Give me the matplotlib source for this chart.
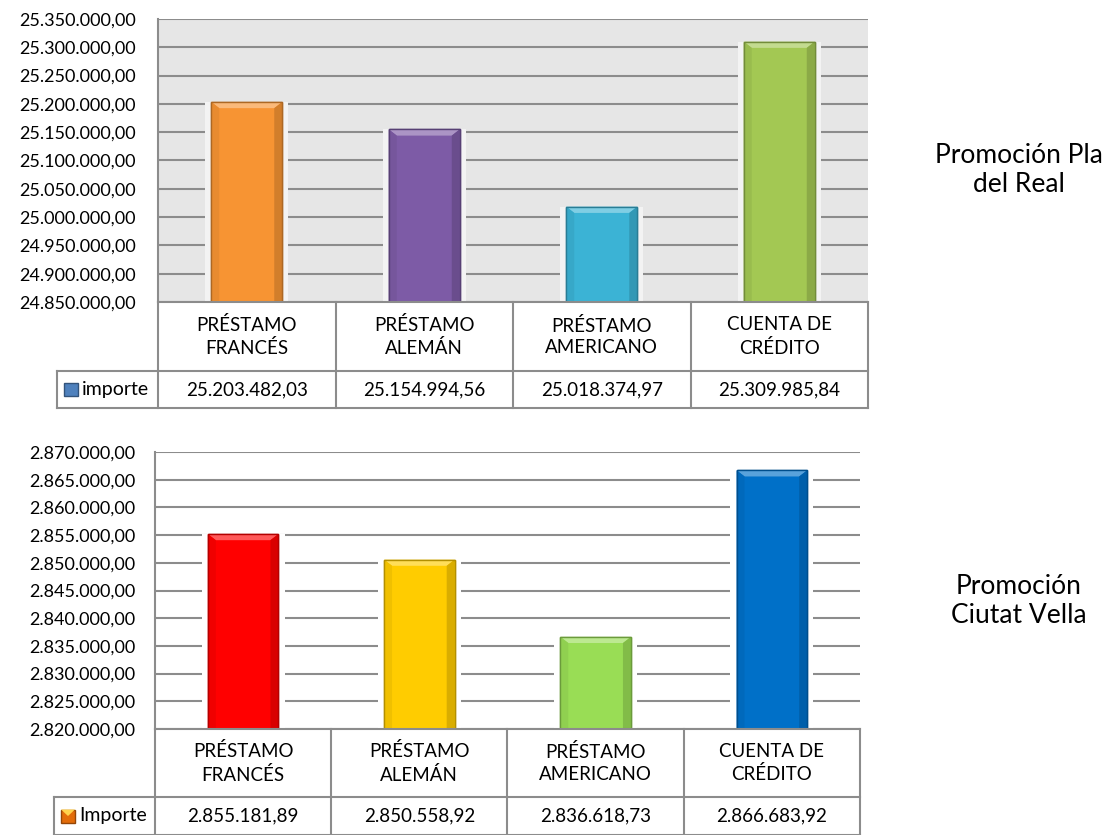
import numpy as np
import matplotlib
matplotlib.use("Agg")
import matplotlib.pyplot as plt
import matplotlib.colors as mcolors
from matplotlib.patches import Rectangle, Polygon

plt.rcParams['font.family'] = ['Lato', 'DejaVu Sans']

# Datos
categorias = ["PRÉSTAMO\nFRANCÉS", "PRÉSTAMO\nALEMÁN", "PRÉSTAMO\nAMERICANO", "CUENTA DE\nCRÉDITO"]

importe_pla = [25203482.03, 25154994.56, 25018374.97, 25309985.84]
importe_ciutat = [2855181.89, 2850558.92, 2836618.73, 2866683.92]

colores_pla = ['#F79433', '#7D5BA6', '#3BB3D5', '#A3C853']
colores_ciutat = ['#FF0000', '#FFCC00', '#99DD55', '#0070C8']

titulo_pla = "Promoción Pla\ndel Real"
titulo_ciutat = "Promoción\nCiutat Vella"

rango_pla = (24850000, 25350000, 50000)
rango_ciutat = (2820000, 2870000, 5000)

GRIS = '#8C8C8C'
FS = 13.5


def formato(v):
    s = f"{v:,.2f}"
    return s.replace(',', 'X').replace('.', ',').replace('X', '.')


def tono(c, f):
    r = np.array(mcolors.to_rgb(c))
    if f > 0:
        r = r + (1 - r) * f
    else:
        r = r * (1 + f)
    return tuple(np.clip(r, 0, 1))


def barras_bisel(ax, valores, colores, ymin, ymax, fondo):
    ancho = 0.4
    rng = ymax - ymin
    bz = 0.022 * rng   # alto del bisel
    bx = 0.045         # ancho del bisel
    for i, (v, c) in enumerate(zip(valores, colores)):
        x0 = i - ancho / 2
        x1 = i + ancho / 2
        # sombra suave
        ax.add_patch(Rectangle((x0 - 0.035, ymin), ancho + 0.07, v - ymin,
                               facecolor=tono(fondo, 0.5), edgecolor='none', zorder=2))
        ax.bar(i, v - ymin, bottom=ymin, width=ancho, color=c,
               edgecolor=tono(c, -0.3), linewidth=1, zorder=3)
        # bisel superior
        ax.add_patch(Polygon([(x0, v), (x1, v), (x1 - bx, v - bz), (x0 + bx, v - bz)],
                             closed=True, facecolor=tono(c, 0.35), edgecolor='none', zorder=4))
        # laterales
        ax.add_patch(Polygon([(x0, v), (x0 + bx, v - bz), (x0 + bx, ymin), (x0, ymin)],
                             closed=True, facecolor=tono(c, -0.06), edgecolor='none', zorder=4))
        ax.add_patch(Polygon([(x1, v), (x1 - bx, v - bz), (x1 - bx, ymin), (x1, ymin)],
                             closed=True, facecolor=tono(c, -0.15), edgecolor='none', zorder=4))
        ax.add_patch(Rectangle((x0, ymin), ancho, v - ymin, facecolor='none',
                               edgecolor=tono(c, -0.3), linewidth=1, zorder=5))


def grafico(fig, pos_ax, alto_tabla, valores, colores, rango, fondo, pad, leyenda, color_ley):
    ymin, ymax, paso = rango
    ax = fig.add_axes(pos_ax)
    ax.set_facecolor(fondo)
    ax.set_xlim(-0.5, 3.5)
    ax.set_ylim(ymin, ymax)
    ticks = np.arange(ymin, ymax + paso / 2, paso)
    ax.set_yticks(ticks)
    ax.set_yticklabels([formato(t) for t in ticks], fontsize=13)
    ax.tick_params(axis='y', length=0, pad=pad)
    ax.set_xticks([])
    for t in ticks:
        ax.axhline(t, color=GRIS, linewidth=1.5, zorder=1)
    for s in ['top', 'right', 'bottom']:
        ax.spines[s].set_visible(False)
    ax.spines['left'].set_color(GRIS)
    ax.spines['left'].set_linewidth(1.5)
    barras_bisel(ax, valores, colores, ymin, ymax, fondo)

    # tabla de datos
    l, b, w, h = pos_ax
    ht = alto_tabla[0] + alto_tabla[1]
    ta = fig.add_axes([l, b - ht, w, ht])
    ta.set_xlim(-0.5, 3.5)
    ta.set_ylim(0, ht)
    ta.axis('off')
    col_px = w * 1109 / 4
    xl = -0.5 - 101 / col_px
    yv = alto_tabla[1]
    kw = dict(color=GRIS, linewidth=1.5, clip_on=False, solid_capstyle='projecting')
    ta.plot([-0.5, 3.5], [ht, ht], **kw)
    ta.plot([xl, 3.5], [yv, yv], **kw)
    ta.plot([xl, 3.5], [0, 0], **kw)
    ta.plot([xl, xl], [0, yv], **kw)
    for k in range(5):
        ta.plot([k - 0.5, k - 0.5], [0, ht], **kw)
    for i, (cat, v) in enumerate(zip(categorias, valores)):
        ta.text(i, yv + alto_tabla[0] / 2, cat, ha='center', va='center',
                fontsize=FS, linespacing=1.35, clip_on=False)
        ta.text(i, yv / 2, formato(v), ha='center', va='center', fontsize=FS, clip_on=False)
    # leyenda
    cx = xl + 7 / col_px
    sq = 14 / col_px
    sh = 13 / 835
    ta.add_patch(Rectangle((cx, yv / 2 - sh / 2), sq, sh, facecolor=color_ley[0],
                           edgecolor=tono(color_ley[0], -0.35), linewidth=1, clip_on=False))
    if len(color_ley) > 1:
        ta.add_patch(Polygon([(cx, yv / 2 + sh / 2), (cx + sq, yv / 2 + sh / 2),
                              (cx + sq / 2, yv / 2)], closed=True,
                             facecolor=color_ley[1], edgecolor='none', clip_on=False))
    ta.text(cx + sq + 4 / col_px, yv / 2, leyenda, ha='left', va='center',
            fontsize=14, clip_on=False)
    return ax


fig = plt.figure(figsize=(11.09, 8.35), dpi=100)

grafico(fig, [158 / 1109, 1 - 302 / 835, 710 / 1109, 283 / 835], (69 / 835, 37 / 835),
        importe_pla, colores_pla, rango_pla, '#E6E6E6', 16, 'importe', ['#4F81BD'])
grafico(fig, [155 / 1109, 1 - 729 / 835, 705 / 1109, 277 / 835], (68 / 835, 38 / 835),
        importe_ciutat, colores_ciutat, rango_ciutat, '#FFFFFF', 14, 'Importe',
        ['#E36C0A', '#FFD24D'])

fig.text(1019 / 1109, 1 - 170 / 835, titulo_pla, ha='center', va='center',
         fontsize=19, linespacing=1.2)
fig.text(1019 / 1109, 1 - 601 / 835, titulo_ciutat, ha='center', va='center',
         fontsize=19, linespacing=1.2)

fig.savefig("out.png", dpi=100)
